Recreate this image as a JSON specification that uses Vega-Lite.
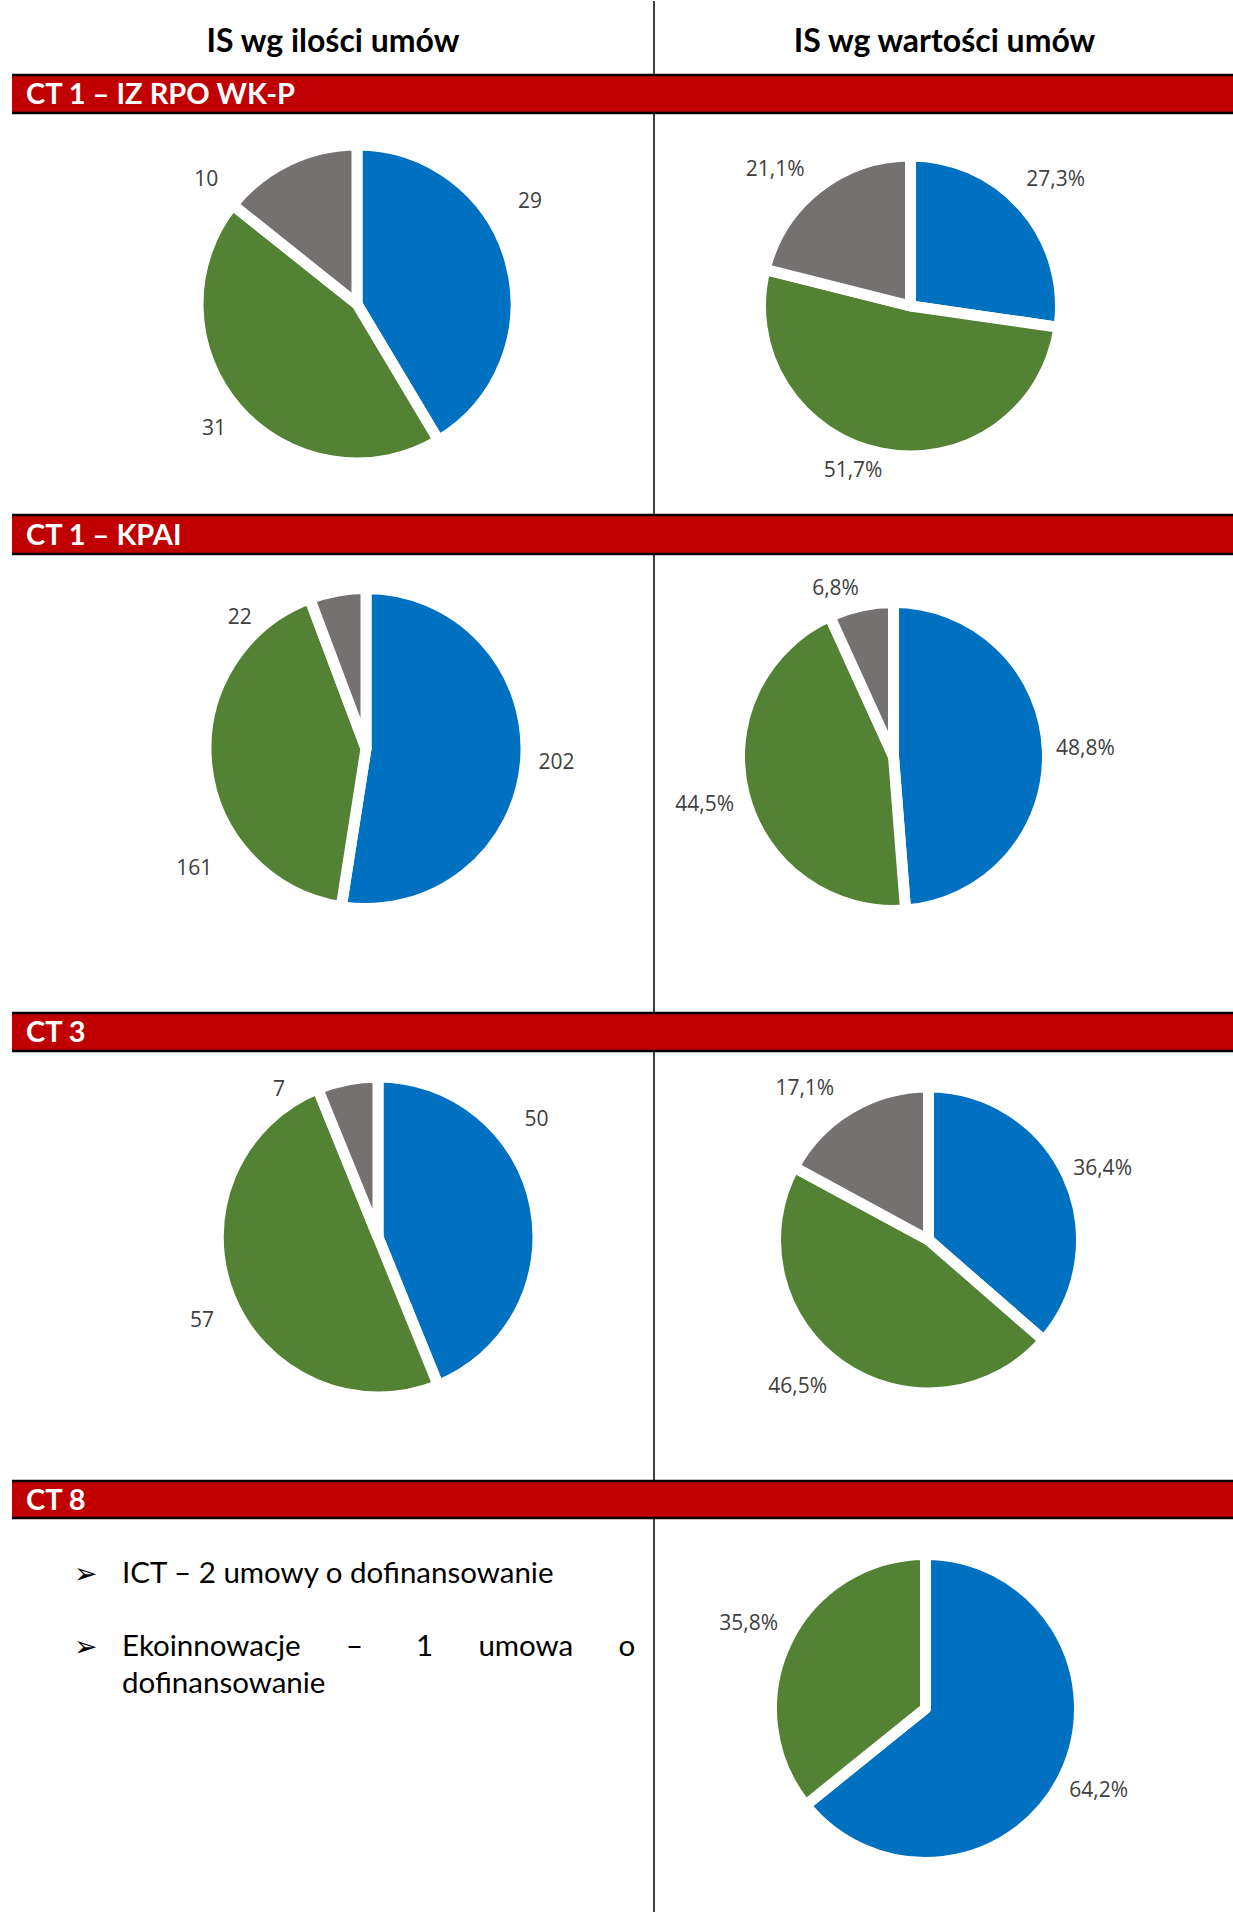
{
  "$schema": "https://vega.github.io/schema/vega-lite/v6.json",
  "padding": {"left": 10, "right": 0, "top": 0, "bottom": 0},
  "background": "white",
  "bounds": "flush",
  "spacing": 0,
  "columns": 2,
  "config": {"view": {"stroke": null}, "concat": {"spacing": 0}, "text": {"font": "Open Sans", "fontSize": 21, "color": "#404040"}},
  "resolve": {"scale": {"theta": "independent", "x": "independent", "y": "independent"}},
  "datasets": {
    "iz_ilosc": [
      {"grupa": "G1", "kolejnosc": 1, "wartosc": 29, "etykieta": "29"},
      {"grupa": "G2", "kolejnosc": 2, "wartosc": 31, "etykieta": "31"},
      {"grupa": "G3", "kolejnosc": 3, "wartosc": 10, "etykieta": "10"}
    ],
    "iz_wartosc": [
      {"grupa": "G1", "kolejnosc": 1, "wartosc": 27.3, "etykieta": "27,3%"},
      {"grupa": "G2", "kolejnosc": 2, "wartosc": 51.7, "etykieta": "51,7%"},
      {"grupa": "G3", "kolejnosc": 3, "wartosc": 21.1, "etykieta": "21,1%"}
    ],
    "kpai_ilosc": [
      {"grupa": "G1", "kolejnosc": 1, "wartosc": 202, "etykieta": "202"},
      {"grupa": "G2", "kolejnosc": 2, "wartosc": 161, "etykieta": "161"},
      {"grupa": "G3", "kolejnosc": 3, "wartosc": 22, "etykieta": "22"}
    ],
    "kpai_wartosc": [
      {"grupa": "G1", "kolejnosc": 1, "wartosc": 48.8, "etykieta": "48,8%"},
      {"grupa": "G2", "kolejnosc": 2, "wartosc": 44.5, "etykieta": "44,5%"},
      {"grupa": "G3", "kolejnosc": 3, "wartosc": 6.8, "etykieta": "6,8%"}
    ],
    "ct3_ilosc": [
      {"grupa": "G1", "kolejnosc": 1, "wartosc": 50, "etykieta": "50"},
      {"grupa": "G2", "kolejnosc": 2, "wartosc": 57, "etykieta": "57"},
      {"grupa": "G3", "kolejnosc": 3, "wartosc": 7, "etykieta": "7"}
    ],
    "ct3_wartosc": [
      {"grupa": "G1", "kolejnosc": 1, "wartosc": 36.4, "etykieta": "36,4%"},
      {"grupa": "G2", "kolejnosc": 2, "wartosc": 46.5, "etykieta": "46,5%"},
      {"grupa": "G3", "kolejnosc": 3, "wartosc": 17.1, "etykieta": "17,1%"}
    ],
    "ct8_wartosc": [
      {"grupa": "G1", "kolejnosc": 1, "wartosc": 64.2, "etykieta": "64,2%"},
      {"grupa": "G2", "kolejnosc": 2, "wartosc": 35.8, "etykieta": "35,8%"}
    ]
  },
  "concat": [
    {"width": 642, "height": 74,
     "data": {"values": [{"naglowek": "IS wg ilości umów"}]},
     "mark": {"type": "text", "font": "Lato", "fontWeight": "bold", "fontSize": 32, "color": "#000000", "baseline": "alphabetic", "dy": 13.5},
     "encoding": {"text": {"field": "naglowek", "type": "nominal"}}},
    {"width": 581, "height": 74,
     "layer": [
       {"data": {"values": [{"naglowek": "IS wg wartości umów"}]},
        "mark": {"type": "text", "font": "Lato", "fontWeight": "bold", "fontSize": 32, "color": "#000000", "baseline": "alphabetic", "dy": 13.5},
        "encoding": {"text": {"field": "naglowek", "type": "nominal"}}},
       {"data": {"values": [{"linia": "podział"}]},
        "mark": {"type": "rule", "color": "#000000", "strokeWidth": 1.5},
        "encoding": {"x": {"datum": 0, "type": "quantitative", "scale": {"domain": [0, 1]}, "axis": null}}}
     ]},

    {"width": 642, "height": 38,
     "view": {"fill": "#c00000", "stroke": null},
     "data": {"values": [{"sekcja": "CT 1 – IZ RPO WK-P"}]},
     "layer": [
       {"mark": {"type": "text", "align": "left", "baseline": "alphabetic", "dx": 14, "dy": 10, "font": "Lato", "fontWeight": "bold", "fontSize": 29, "color": "white"},
        "encoding": {"text": {"field": "sekcja", "type": "nominal"}, "x": {"datum": 0, "type": "quantitative", "scale": {"domain": [0, 1]}, "axis": null}}},
       {"mark": {"type": "rule", "color": "#000000", "strokeWidth": 2.5},
        "encoding": {"y": {"datum": 0, "type": "quantitative", "scale": {"domain": [0, 1]}, "axis": null}}},
       {"mark": {"type": "rule", "color": "#000000", "strokeWidth": 2.5},
        "encoding": {"y": {"datum": 1, "type": "quantitative", "scale": {"domain": [0, 1]}, "axis": null}}}
     ]},
    {"width": 581, "height": 38,
     "view": {"fill": "#c00000", "stroke": null},
     "data": {"values": [{"krawedz": "pasek"}]},
     "layer": [
       {"mark": {"type": "rule", "color": "#000000", "strokeWidth": 2.5},
        "encoding": {"y": {"datum": 0, "type": "quantitative", "scale": {"domain": [0, 1]}, "axis": null}}},
       {"mark": {"type": "rule", "color": "#000000", "strokeWidth": 2.5},
        "encoding": {"y": {"datum": 1, "type": "quantitative", "scale": {"domain": [0, 1]}, "axis": null}}}
     ]},

    {"width": 642, "height": 402, "data": {"name": "iz_ilosc"},
     "encoding": {"theta": {"field": "wartosc", "type": "quantitative", "stack": "normalize"}, "order": {"field": "kolejnosc", "type": "quantitative"}, "detail": {"field": "grupa", "type": "nominal"}},
     "layer": [
       {"mark": {"type": "arc", "outerRadius": 159, "stroke": "white", "strokeWidth": 11, "strokeJoin": "round", "xOffset": 24, "yOffset": -10},
        "encoding": {"color": {"field": "grupa", "type": "nominal", "scale": {"domain": ["G1", "G2", "G3"], "range": ["#0070C0", "#548235", "#767171"]}, "legend": null}}},
       {"mark": {"type": "text", "radius": 201, "thetaOffset": -0.264, "xOffset": 24, "yOffset": -10},
        "encoding": {"text": {"condition": {"test": "datum.grupa === 'G1'", "field": "etykieta", "type": "nominal"}, "value": ""}}},
       {"mark": {"type": "text", "radius": 190, "xOffset": 24, "yOffset": -10},
        "encoding": {"text": {"condition": {"test": "datum.grupa === 'G2'", "field": "etykieta", "type": "nominal"}, "value": ""}}},
       {"mark": {"type": "text", "radius": 195, "thetaOffset": -0.435, "xOffset": 24, "yOffset": -10},
        "encoding": {"text": {"condition": {"test": "datum.grupa === 'G3'", "field": "etykieta", "type": "nominal"}, "value": ""}}}
     ]},
    {"width": 581, "height": 402,
     "layer": [
       {"data": {"name": "iz_wartosc"},
        "encoding": {"theta": {"field": "wartosc", "type": "quantitative", "stack": "normalize"}, "order": {"field": "kolejnosc", "type": "quantitative"}, "detail": {"field": "grupa", "type": "nominal"}},
        "layer": [
          {"mark": {"type": "arc", "outerRadius": 150, "stroke": "white", "strokeWidth": 11, "strokeJoin": "round", "xOffset": -34, "yOffset": -8},
           "encoding": {"color": {"field": "grupa", "type": "nominal", "scale": {"domain": ["G1", "G2", "G3"], "range": ["#0070C0", "#548235", "#767171"]}, "legend": null}}},
          {"mark": {"type": "text", "radius": 192, "xOffset": -34, "yOffset": -8},
           "encoding": {"text": {"condition": {"test": "datum.grupa === 'G1'", "field": "etykieta", "type": "nominal"}, "value": ""}}},
          {"mark": {"type": "text", "radius": 175, "thetaOffset": 0.14, "xOffset": -34, "yOffset": -8},
           "encoding": {"text": {"condition": {"test": "datum.grupa === 'G2'", "field": "etykieta", "type": "nominal"}, "value": ""}}},
          {"mark": {"type": "text", "radius": 192, "thetaOffset": -0.12, "xOffset": -34, "yOffset": -8},
           "encoding": {"text": {"condition": {"test": "datum.grupa === 'G3'", "field": "etykieta", "type": "nominal"}, "value": ""}}}
        ]},
       {"data": {"values": [{"linia": "podział"}]},
        "mark": {"type": "rule", "color": "#000000", "strokeWidth": 1.5},
        "encoding": {"x": {"datum": 0, "type": "quantitative", "scale": {"domain": [0, 1]}, "axis": null}}}
     ]},

    {"width": 642, "height": 39,
     "view": {"fill": "#c00000", "stroke": null},
     "data": {"values": [{"sekcja": "CT 1 – KPAI"}]},
     "layer": [
       {"mark": {"type": "text", "align": "left", "baseline": "alphabetic", "dx": 14, "dy": 10, "font": "Lato", "fontWeight": "bold", "fontSize": 29, "color": "white"},
        "encoding": {"text": {"field": "sekcja", "type": "nominal"}, "x": {"datum": 0, "type": "quantitative", "scale": {"domain": [0, 1]}, "axis": null}}},
       {"mark": {"type": "rule", "color": "#000000", "strokeWidth": 2.5},
        "encoding": {"y": {"datum": 0, "type": "quantitative", "scale": {"domain": [0, 1]}, "axis": null}}},
       {"mark": {"type": "rule", "color": "#000000", "strokeWidth": 2.5},
        "encoding": {"y": {"datum": 1, "type": "quantitative", "scale": {"domain": [0, 1]}, "axis": null}}}
     ]},
    {"width": 581, "height": 39,
     "view": {"fill": "#c00000", "stroke": null},
     "data": {"values": [{"krawedz": "pasek"}]},
     "layer": [
       {"mark": {"type": "rule", "color": "#000000", "strokeWidth": 2.5},
        "encoding": {"y": {"datum": 0, "type": "quantitative", "scale": {"domain": [0, 1]}, "axis": null}}},
       {"mark": {"type": "rule", "color": "#000000", "strokeWidth": 2.5},
        "encoding": {"y": {"datum": 1, "type": "quantitative", "scale": {"domain": [0, 1]}, "axis": null}}}
     ]},

    {"width": 642, "height": 459, "data": {"name": "kpai_ilosc"},
     "encoding": {"theta": {"field": "wartosc", "type": "quantitative", "stack": "normalize"}, "order": {"field": "kolejnosc", "type": "quantitative"}, "detail": {"field": "grupa", "type": "nominal"}},
     "layer": [
       {"mark": {"type": "arc", "outerRadius": 160, "stroke": "white", "strokeWidth": 11, "strokeJoin": "round", "xOffset": 33, "yOffset": -35},
        "encoding": {"color": {"field": "grupa", "type": "nominal", "scale": {"domain": ["G1", "G2", "G3"], "range": ["#0070C0", "#548235", "#767171"]}, "legend": null}}},
       {"mark": {"type": "text", "radius": 191, "xOffset": 33, "yOffset": -35},
        "encoding": {"text": {"condition": {"test": "datum.grupa === 'G1'", "field": "etykieta", "type": "nominal"}, "value": ""}}},
       {"mark": {"type": "text", "radius": 210, "thetaOffset": -0.511, "xOffset": 33, "yOffset": -35},
        "encoding": {"text": {"condition": {"test": "datum.grupa === 'G2'", "field": "etykieta", "type": "nominal"}, "value": ""}}},
       {"mark": {"type": "text", "radius": 182, "thetaOffset": -0.588, "xOffset": 33, "yOffset": -35},
        "encoding": {"text": {"condition": {"test": "datum.grupa === 'G3'", "field": "etykieta", "type": "nominal"}, "value": ""}}}
     ]},
    {"width": 581, "height": 459,
     "layer": [
       {"data": {"name": "kpai_wartosc"},
        "encoding": {"theta": {"field": "wartosc", "type": "quantitative", "stack": "normalize"}, "order": {"field": "kolejnosc", "type": "quantitative"}, "detail": {"field": "grupa", "type": "nominal"}},
        "layer": [
          {"mark": {"type": "arc", "outerRadius": 154, "stroke": "white", "strokeWidth": 11, "strokeJoin": "round", "xOffset": -51, "yOffset": -27},
           "encoding": {"color": {"field": "grupa", "type": "nominal", "scale": {"domain": ["G1", "G2", "G3"], "range": ["#0070C0", "#548235", "#767171"]}, "legend": null}}},
          {"mark": {"type": "text", "radius": 192, "xOffset": -51, "yOffset": -27},
           "encoding": {"text": {"condition": {"test": "datum.grupa === 'G1'", "field": "etykieta", "type": "nominal"}, "value": ""}}},
          {"mark": {"type": "text", "radius": 195, "xOffset": -51, "yOffset": -27},
           "encoding": {"text": {"condition": {"test": "datum.grupa === 'G2'", "field": "etykieta", "type": "nominal"}, "value": ""}}},
          {"mark": {"type": "text", "radius": 177, "thetaOffset": -0.12, "xOffset": -51, "yOffset": -27},
           "encoding": {"text": {"condition": {"test": "datum.grupa === 'G3'", "field": "etykieta", "type": "nominal"}, "value": ""}}}
        ]},
       {"data": {"values": [{"linia": "podział"}]},
        "mark": {"type": "rule", "color": "#000000", "strokeWidth": 1.5},
        "encoding": {"x": {"datum": 0, "type": "quantitative", "scale": {"domain": [0, 1]}, "axis": null}}}
     ]},

    {"width": 642, "height": 38,
     "view": {"fill": "#c00000", "stroke": null},
     "data": {"values": [{"sekcja": "CT 3"}]},
     "layer": [
       {"mark": {"type": "text", "align": "left", "baseline": "alphabetic", "dx": 14, "dy": 10, "font": "Lato", "fontWeight": "bold", "fontSize": 29, "color": "white"},
        "encoding": {"text": {"field": "sekcja", "type": "nominal"}, "x": {"datum": 0, "type": "quantitative", "scale": {"domain": [0, 1]}, "axis": null}}},
       {"mark": {"type": "rule", "color": "#000000", "strokeWidth": 2.5},
        "encoding": {"y": {"datum": 0, "type": "quantitative", "scale": {"domain": [0, 1]}, "axis": null}}},
       {"mark": {"type": "rule", "color": "#000000", "strokeWidth": 2.5},
        "encoding": {"y": {"datum": 1, "type": "quantitative", "scale": {"domain": [0, 1]}, "axis": null}}}
     ]},
    {"width": 581, "height": 38,
     "view": {"fill": "#c00000", "stroke": null},
     "data": {"values": [{"krawedz": "pasek"}]},
     "layer": [
       {"mark": {"type": "rule", "color": "#000000", "strokeWidth": 2.5},
        "encoding": {"y": {"datum": 0, "type": "quantitative", "scale": {"domain": [0, 1]}, "axis": null}}},
       {"mark": {"type": "rule", "color": "#000000", "strokeWidth": 2.5},
        "encoding": {"y": {"datum": 1, "type": "quantitative", "scale": {"domain": [0, 1]}, "axis": null}}}
     ]},

    {"width": 642, "height": 430, "data": {"name": "ct3_ilosc"},
     "encoding": {"theta": {"field": "wartosc", "type": "quantitative", "stack": "normalize"}, "order": {"field": "kolejnosc", "type": "quantitative"}, "detail": {"field": "grupa", "type": "nominal"}},
     "layer": [
       {"mark": {"type": "arc", "outerRadius": 160, "stroke": "white", "strokeWidth": 11, "strokeJoin": "round", "xOffset": 45, "yOffset": -29},
        "encoding": {"color": {"field": "grupa", "type": "nominal", "scale": {"domain": ["G1", "G2", "G3"], "range": ["#0070C0", "#548235", "#767171"]}, "legend": null}}},
       {"mark": {"type": "text", "radius": 197, "thetaOffset": -0.443, "xOffset": 45, "yOffset": -29},
        "encoding": {"text": {"condition": {"test": "datum.grupa === 'G1'", "field": "etykieta", "type": "nominal"}, "value": ""}}},
       {"mark": {"type": "text", "radius": 195, "thetaOffset": -0.06, "xOffset": 45, "yOffset": -29},
        "encoding": {"text": {"condition": {"test": "datum.grupa === 'G2'", "field": "etykieta", "type": "nominal"}, "value": ""}}},
       {"mark": {"type": "text", "radius": 177, "thetaOffset": -0.40, "xOffset": 45, "yOffset": -29},
        "encoding": {"text": {"condition": {"test": "datum.grupa === 'G3'", "field": "etykieta", "type": "nominal"}, "value": ""}}}
     ]},
    {"width": 581, "height": 430,
     "layer": [
       {"data": {"name": "ct3_wartosc"},
        "encoding": {"theta": {"field": "wartosc", "type": "quantitative", "stack": "normalize"}, "order": {"field": "kolejnosc", "type": "quantitative"}, "detail": {"field": "grupa", "type": "nominal"}},
        "layer": [
          {"mark": {"type": "arc", "outerRadius": 153, "stroke": "white", "strokeWidth": 11, "strokeJoin": "round", "xOffset": -16, "yOffset": -26},
           "encoding": {"color": {"field": "grupa", "type": "nominal", "scale": {"domain": ["G1", "G2", "G3"], "range": ["#0070C0", "#548235", "#767171"]}, "legend": null}}},
          {"mark": {"type": "text", "radius": 188, "thetaOffset": 0.04, "xOffset": -16, "yOffset": -26},
           "encoding": {"text": {"condition": {"test": "datum.grupa === 'G1'", "field": "etykieta", "type": "nominal"}, "value": ""}}},
          {"mark": {"type": "text", "radius": 197, "thetaOffset": 0.12, "xOffset": -16, "yOffset": -26},
           "encoding": {"text": {"condition": {"test": "datum.grupa === 'G2'", "field": "etykieta", "type": "nominal"}, "value": ""}}},
          {"mark": {"type": "text", "radius": 195, "thetaOffset": -0.15, "xOffset": -16, "yOffset": -26},
           "encoding": {"text": {"condition": {"test": "datum.grupa === 'G3'", "field": "etykieta", "type": "nominal"}, "value": ""}}}
        ]},
       {"data": {"values": [{"linia": "podział"}]},
        "mark": {"type": "rule", "color": "#000000", "strokeWidth": 1.5},
        "encoding": {"x": {"datum": 0, "type": "quantitative", "scale": {"domain": [0, 1]}, "axis": null}}}
     ]},

    {"width": 642, "height": 37,
     "view": {"fill": "#c00000", "stroke": null},
     "data": {"values": [{"sekcja": "CT 8"}]},
     "layer": [
       {"mark": {"type": "text", "align": "left", "baseline": "alphabetic", "dx": 14, "dy": 10, "font": "Lato", "fontWeight": "bold", "fontSize": 29, "color": "white"},
        "encoding": {"text": {"field": "sekcja", "type": "nominal"}, "x": {"datum": 0, "type": "quantitative", "scale": {"domain": [0, 1]}, "axis": null}}},
       {"mark": {"type": "rule", "color": "#000000", "strokeWidth": 2.5},
        "encoding": {"y": {"datum": 0, "type": "quantitative", "scale": {"domain": [0, 1]}, "axis": null}}},
       {"mark": {"type": "rule", "color": "#000000", "strokeWidth": 2.5},
        "encoding": {"y": {"datum": 1, "type": "quantitative", "scale": {"domain": [0, 1]}, "axis": null}}}
     ]},
    {"width": 581, "height": 37,
     "view": {"fill": "#c00000", "stroke": null},
     "data": {"values": [{"krawedz": "pasek"}]},
     "layer": [
       {"mark": {"type": "rule", "color": "#000000", "strokeWidth": 2.5},
        "encoding": {"y": {"datum": 0, "type": "quantitative", "scale": {"domain": [0, 1]}, "axis": null}}},
       {"mark": {"type": "rule", "color": "#000000", "strokeWidth": 2.5},
        "encoding": {"y": {"datum": 1, "type": "quantitative", "scale": {"domain": [0, 1]}, "axis": null}}}
     ]},

    {"width": 642, "height": 395,
     "layer": [
       {"data": {"values": [{"tekst": "ICT – 2 umowy o dofinansowanie"}]},
        "mark": {"type": "text", "align": "left", "baseline": "alphabetic", "font": "Lato", "fontSize": 29.5, "dx": 110, "dy": -132.8, "color": "#000000"},
        "encoding": {"text": {"field": "tekst", "type": "nominal"}, "x": {"datum": 0, "type": "quantitative", "scale": {"domain": [0, 1]}, "axis": null}}},
       {"data": {"values": [{"tekst": ["Ekoinnowacje\u00a0\u00a0\u00a0\u00a0\u00a0\u00a0–\u00a0\u00a0\u00a0\u00a0\u00a0\u00a0\u00a01\u00a0\u00a0\u00a0\u00a0\u00a0\u00a0umowa\u00a0\u00a0\u00a0\u00a0\u00a0\u00a0o", "dofinansowanie"]}]},
        "mark": {"type": "text", "align": "left", "baseline": "alphabetic", "font": "Lato", "fontSize": 29.5, "lineHeight": 36.7, "dx": 110, "dy": -59.4, "color": "#000000"},
        "encoding": {"text": {"field": "tekst", "type": "nominal"}, "x": {"datum": 0, "type": "quantitative", "scale": {"domain": [0, 1]}, "axis": null}}},
       {"data": {"values": [{"punktor": "➢"}]},
        "mark": {"type": "text", "align": "left", "baseline": "alphabetic", "font": "DejaVu Sans", "fontSize": 28, "dx": 62, "dy": -132.8, "color": "#000000"},
        "encoding": {"text": {"field": "punktor", "type": "nominal"}, "x": {"datum": 0, "type": "quantitative", "scale": {"domain": [0, 1]}, "axis": null}}},
       {"data": {"values": [{"punktor": "➢"}]},
        "mark": {"type": "text", "align": "left", "baseline": "alphabetic", "font": "DejaVu Sans", "fontSize": 28, "dx": 62, "dy": -59.4, "color": "#000000"},
        "encoding": {"text": {"field": "punktor", "type": "nominal"}, "x": {"datum": 0, "type": "quantitative", "scale": {"domain": [0, 1]}, "axis": null}}}
     ]},
    {"width": 581, "height": 395,
     "layer": [
       {"data": {"name": "ct8_wartosc"},
        "encoding": {"theta": {"field": "wartosc", "type": "quantitative", "stack": "normalize"}, "order": {"field": "kolejnosc", "type": "quantitative"}, "detail": {"field": "grupa", "type": "nominal"}},
        "layer": [
          {"mark": {"type": "arc", "outerRadius": 154, "stroke": "white", "strokeWidth": 11, "strokeJoin": "round", "xOffset": -19, "yOffset": -7},
           "encoding": {"color": {"field": "grupa", "type": "nominal", "scale": {"domain": ["G1", "G2", "G3"], "range": ["#0070C0", "#548235", "#767171"]}, "legend": null}}},
          {"mark": {"type": "text", "radius": 192, "xOffset": -19, "yOffset": -7},
           "encoding": {"text": {"condition": {"test": "datum.grupa === 'G1'", "field": "etykieta", "type": "nominal"}, "value": ""}}},
          {"mark": {"type": "text", "radius": 196, "xOffset": -19, "yOffset": -7},
           "encoding": {"text": {"condition": {"test": "datum.grupa === 'G2'", "field": "etykieta", "type": "nominal"}, "value": ""}}}
        ]},
       {"data": {"values": [{"linia": "podział"}]},
        "mark": {"type": "rule", "color": "#000000", "strokeWidth": 1.5},
        "encoding": {"x": {"datum": 0, "type": "quantitative", "scale": {"domain": [0, 1]}, "axis": null}}}
     ]}
  ]
}
